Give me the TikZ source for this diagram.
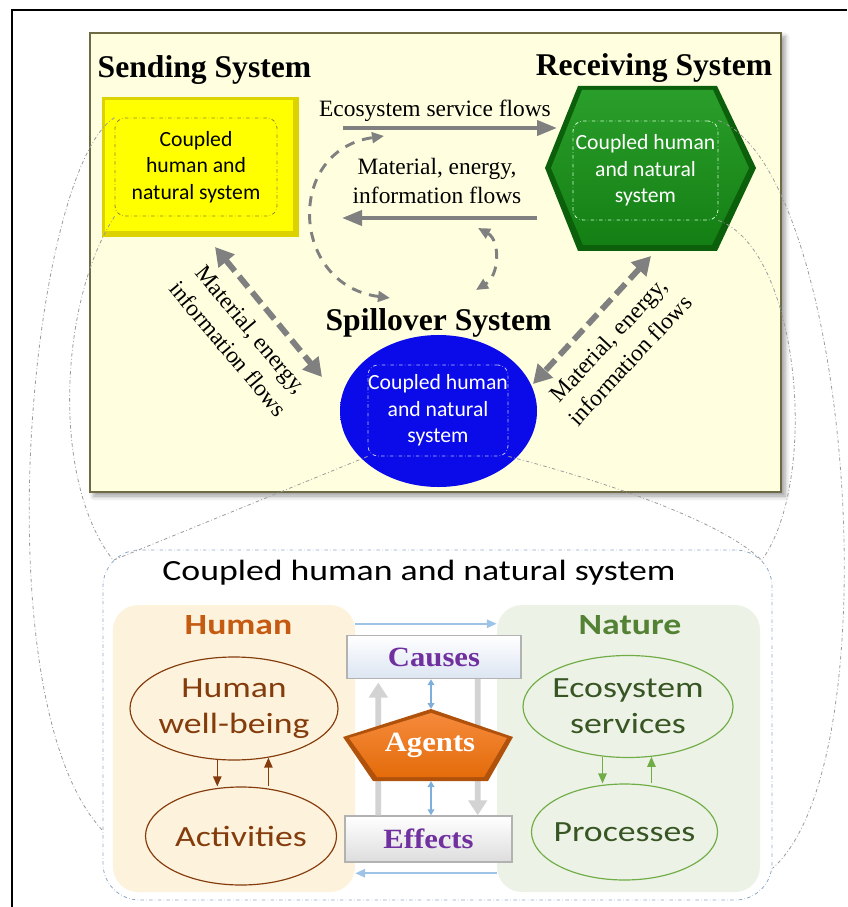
\documentclass[tikz,border=0pt]{standalone}
\usepackage{fontspec}
\setmainfont{Liberation Serif}
\newfontfamily\calsans{Carlito}
\newfontfamily\calwide[FakeStretch=1.22]{Carlito}
\newfontfamily\serwide[FakeStretch=1.1]{Liberation Serif}
\usetikzlibrary{shapes.geometric}
\usetikzlibrary{arrows.meta}
\usetikzlibrary{shadows.blur}
\definecolor{panelfill}{HTML}{FFFFE0}
\definecolor{paneledge}{HTML}{6E6A46}
\definecolor{flowgray}{HTML}{808080}
\definecolor{yellowface}{HTML}{FFFF00}
\definecolor{yellowedge}{HTML}{DCD200}
\definecolor{greenlight}{HTML}{2A9E2A}
\definecolor{greenface}{HTML}{147F14}
\definecolor{greenedge}{HTML}{0C600C}
\definecolor{blueface}{HTML}{0B0BEA}
\definecolor{bluedark}{HTML}{0000A0}
\definecolor{humanfill}{HTML}{FDF3DD}
\definecolor{humantxt}{HTML}{C55A11}
\definecolor{humanbrown}{HTML}{843C0C}
\definecolor{naturefill}{HTML}{EDF2E6}
\definecolor{naturetxt}{HTML}{548235}
\definecolor{naturegreen}{HTML}{70AD47}
\definecolor{naturedark}{HTML}{375623}
\definecolor{causespurple}{HTML}{7030A0}
\definecolor{causesblue}{HTML}{DCE5F2}
\definecolor{effectsgray}{HTML}{DDDDDD}
\definecolor{agentlight}{HTML}{F58A3C}
\definecolor{agentorange}{HTML}{E46C0A}
\definecolor{agentedge}{HTML}{B0520C}
\definecolor{lightblue}{HTML}{9DC3E6}
\definecolor{midblue}{HTML}{7FAEDA}
\definecolor{lightgray}{HTML}{D3D3D3}
\definecolor{boxedge}{HTML}{8FA9C9}
\definecolor{zoomgray}{HTML}{9C9C9C}
\pgfdeclareradialshading{spillball}{\pgfpoint{0bp}{0bp}}{color(0bp)=(blueface); color(38bp)=(blueface); color(50bp)=(bluedark)}
\tikzset{
	sys_title/.style = {
		inner sep=0pt,
		font=\bfseries\fontsize{27pt}{30pt}\selectfont
	},
	flow_label/.style = {
		align=center,
		inner sep=0pt,
		font=\fontsize{20pt}{25.5pt}\selectfont
	},
	sys_inner/.style = {
		rectangle,
		rounded corners=0.3cm,
		dash dot,
		line width=0.7pt,
		align=center,
		inner sep=0pt,
		font=\calsans\fontsize{18.5pt}{22.5pt}\selectfont
	},
	flow_solid/.style = {
		draw=flowgray,
		line width=3.4pt,
		-{Triangle[length=0.6cm,width=0.45cm]}
	},
	flow_dash/.style = {
		draw=flowgray,
		line width=5pt,
		dash pattern=on 0.42cm off 0.2cm,
		{Triangle[length=0.55cm,width=0.6cm]}-{Triangle[length=0.55cm,width=0.6cm]}
	},
	flow_loop/.style = {
		draw=flowgray,
		line width=2.5pt,
		dash pattern=on 0.3cm off 0.24cm,
		{Triangle[length=0.36cm,width=0.32cm]}-{Triangle[length=0.36cm,width=0.32cm]}
	},
	zoom_line/.style = {
		draw=zoomgray,
		line width=0.7pt,
		dash dot
	},
	sub_panel/.style = {
		rectangle,
		rounded corners=0.75cm,
		inner sep=0pt
	},
	sub_head/.style = {
		inner sep=0pt,
		font=\calwide\bfseries\fontsize{25pt}{30pt}\selectfont
	},
	sub_ell/.style = {
		ellipse,
		inner xsep=-0.2cm,
		inner ysep=0pt,
		line width=1pt,
		align=center,
		font=\calwide\fontsize{25pt}{30.5pt}\selectfont
	},
	cause_box/.style = {
		rectangle,
		draw=gray!60,
		line width=1.2pt,
		inner sep=0pt,
		text=causespurple,
		font=\serwide\bfseries\fontsize{23.8pt}{26pt}\selectfont
	},
	hum_arrow/.style = {
		draw=humanbrown,
		line width=1.3pt,
		-{Triangle[length=0.3cm,width=0.25cm]}
	},
	nat_arrow/.style = {
		draw=naturegreen,
		line width=1.3pt,
		-{Triangle[length=0.3cm,width=0.25cm]}
	},
	lb_arrow/.style = {
		draw=lightblue,
		line width=1.7pt,
		-{Triangle[length=0.3cm,width=0.25cm]}
	},
	lb_small/.style = {
		draw=midblue,
		line width=1.3pt,
		{Triangle[length=0.18cm,width=0.2cm]}-{Triangle[length=0.18cm,width=0.2cm]}
	},
	lg_arrow/.style = {
		draw=lightgray,
		line width=5pt,
		-{Triangle[length=0.45cm,width=0.55cm]}
	}
}
\begin{document}
\begin{tikzpicture}[x=0.03cm, y=-0.03cm]
\useasboundingbox (0,0) rectangle (847,907);
\draw[line width=2.5pt] (12,907) -- (12,10) -- (847,10);

% upper panel: telecoupled systems
\node[rectangle, fill=panelfill, draw=paneledge, line width=1.7pt, minimum width=20.73cm, minimum height=13.77cm,
	blur shadow={shadow xshift=0.12cm, shadow yshift=-0.12cm, shadow blur radius=0.15cm}] (panel) at (435.5,262.5) {};

\node[rectangle, fill=yellowedge, minimum width=5.91cm, minimum height=4.2cm, inner sep=0pt] (send) at (200.5,167) {};
\fill[yellowface] ([shift={(0.1cm,-0.1cm)}]send.north west) rectangle ([shift={(-0.18cm,0.18cm)}]send.south east);
\node[sys_inner, draw=olive!70!gray, minimum width=4.86cm, minimum height=2.94cm] (send_in) at (196,167) {Coupled\\human and\\natural system};

\fill[greenedge] (545,168) -- (578,86) -- (717,86) -- (756,168) -- (717,251) -- (578,251) -- cycle;
\shade[top color=greenlight, bottom color=greenface] (551,168) -- (582,90) -- (713,90) -- (749,168) -- (712,245) -- (583,245) -- cycle;
\node[sys_inner, draw=white!80!green, text=white, minimum width=4.35cm, minimum height=2.97cm] (recv_in) at (645.5,170.5) {Coupled human\\and natural\\system};

\node[ellipse, shading=spillball, minimum width=5.91cm, minimum height=4.56cm, inner sep=0pt] (spill) at (438.5,411) {};
\node[sys_inner, draw=white!75!blue, text=white, minimum width=4.2cm, minimum height=2.73cm] (spill_in) at (438,410.5) {Coupled human\\and natural\\system};

\node[sys_title] (send_title) at (204.5,70) {Sending System};
\node[sys_title] (recv_title) at (654,68) {Receiving System};
\node[sys_title] (spill_title) at (438.5,323) {Spillover System};

\coordinate (esf_a) at (343,128);
\coordinate (esf_b) at (557,128);
\draw[flow_solid] (esf_a) -- (esf_b);
\node[flow_label] (esf_lab) at (435,111) {Ecosystem service flows};

\coordinate (mef_a) at (537,218);
\coordinate (mef_b) at (342,218);
\draw[flow_solid] (mef_a) -- (mef_b);
\node[flow_label] (mef_lab) at (437,181) {Material, energy,\\information flows};

\coordinate (loop_l1) at (390,298);
\coordinate (loop_l2) at (384,136);
\draw[flow_loop] (loop_l1) .. controls (290,285) and (285,150) .. (loop_l2);
\coordinate (loop_r1) at (478,228);
\coordinate (loop_r2) at (476,290);
\draw[flow_loop] (loop_r1) .. controls (500,240) and (500,275) .. (loop_r2);

\coordinate (dl_a) at (215,247);
\coordinate (dl_b) at (322,377);
\draw[flow_dash] (dl_a) -- (dl_b);
\node[flow_label, rotate=-50] (dl_lab) at (240,339) {Material, energy,\\information flows};
\coordinate (dr_a) at (651,256);
\coordinate (dr_b) at (533,384);
\draw[flow_dash] (dr_a) -- (dr_b);
\node[flow_label, rotate=47] (dr_lab) at (619,350) {Material, energy,\\information flows};

% lower panel: coupled human and natural system
\node[rectangle, draw=boxedge, dash dot, line width=0.7pt, rounded corners=1.1cm, minimum width=20.07cm, minimum height=10.5cm] (chn) at (437.5,725) {};
\node[inner sep=0pt, font=\calwide\fontsize{25pt}{30pt}\selectfont] (chn_title) at (419,573) {Coupled human and natural system};

\node[sub_panel, fill=humanfill, minimum width=7.26cm, minimum height=8.61cm] (hum_panel) at (234,748.5) {};
\node[sub_panel, fill=naturefill, minimum width=7.89cm, minimum height=8.61cm] (nat_panel) at (628.5,748.5) {};
\node[sub_head, text=humantxt] (hum_head) at (238.5,625) {Human};
\node[sub_head, text=naturetxt] (nat_head) at (630,625) {Nature};

\node[sub_ell, draw=humanbrown, text=humanbrown, minimum width=6.24cm, minimum height=3.09cm] (hwb) at (234,708.5) {Human\\well-being};
\node[sub_ell, draw=humanbrown, text=humanbrown, minimum width=5.73cm, minimum height=2.94cm] (act) at (241,836) {Activities};
\node[sub_ell, draw=naturegreen, text=naturedark, minimum width=6.3cm, minimum height=3.06cm] (ess) at (628,706.5) {Ecosystem\\services};
\node[sub_ell, draw=naturegreen, text=naturedark, minimum width=5.58cm, minimum height=2.88cm] (proc) at (624.5,832) {Processes};
\draw[hum_arrow] (hwb.252) -- (hwb.252 |- act.north);
\draw[hum_arrow] (hwb.305 |- act.north) -- (hwb.305);
\draw[nat_arrow] (ess.243) -- (ess.243 |- proc.north);
\draw[nat_arrow] (ess.295 |- proc.north) -- (ess.295);

\node[cause_box, top color=white, bottom color=causesblue, minimum width=5.22cm, minimum height=1.29cm] (causes) at (434,657) {Causes};
\node[cause_box, top color=white, bottom color=effectsgray, minimum width=5.01cm, minimum height=1.38cm] (effects) at (428.5,839) {Effects};
\draw[lb_arrow] ([yshift=-0.57cm]hum_panel.north east) -- ([yshift=-0.57cm]nat_panel.north west);
\draw[lb_arrow] ([yshift=0.57cm]nat_panel.south west) -- ([yshift=0.57cm]hum_panel.south east);
\draw[lg_arrow, shorten >=0.1cm] ([xshift=1.02cm]effects.north west) -- ([xshift=0.96cm]causes.south west);
\draw[lg_arrow] ([xshift=-1.32cm]causes.south east) -- ([xshift=-1.05cm]effects.north east);

\coordinate (ag_top) at (431,709);
\coordinate (ag_bot) at (431,781);
\fill[agentedge] (ag_top) -- (513,737) -- (488,781) -- (373,781) -- (343,737) -- cycle;
\shade[top color=agentlight, bottom color=agentorange] (431,713) -- (507,738) -- (484,777) -- (377,777) -- (349,738) -- cycle;
\node[inner sep=0pt, text=white, font=\serwide\bfseries\fontsize{23.8pt}{26pt}\selectfont] (agents) at (430,745) {Agents};
\draw[lb_small] (ag_top |- causes.south) -- (ag_top);
\draw[lb_small] (ag_bot) -- (ag_bot |- effects.north);

% zoom lines between the panels
\draw[zoom_line] (send_in.north west) .. controls (30,170) and (-20,700) .. ([yshift=2.1cm]chn.south west);
\draw[zoom_line] (send_in.south west) .. controls (60,300) and (50,480) .. ([shift={(0.32cm,-0.32cm)}]chn.north west);
\draw[zoom_line] (spill_in.south west) -- ([shift={(0.32cm,-0.32cm)}]chn.north west);
\draw[zoom_line] (spill_in.south east) .. controls (600,480) and (720,520) .. ([shift={(-0.32cm,-0.32cm)}]chn.north east);
\draw[zoom_line] (recv_in.south east) .. controls (800,250) and (820,480) .. ([shift={(-0.32cm,-0.32cm)}]chn.north east);
\draw[zoom_line] (recv_in.north east) .. controls (850,170) and (895,760) .. ([yshift=0.96cm]chn.south east);
\end{tikzpicture}
\end{document}
